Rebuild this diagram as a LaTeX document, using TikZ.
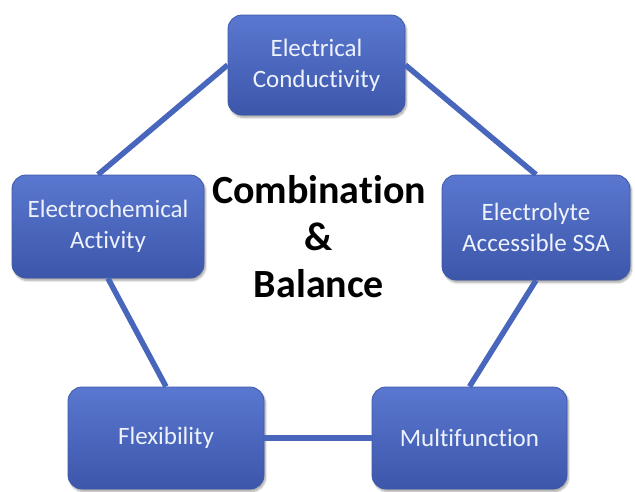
\documentclass[tikz,border=0pt]{standalone}
\usepackage{fontspec}
\setmainfont{Carlito}[Ligatures=NoCommon]
\usetikzlibrary{shadows.blur}
\definecolor{boxtop}{RGB}{90,120,208}
\definecolor{boxbot}{RGB}{60,86,170}
\definecolor{boxedge}{RGB}{62,88,168}
\definecolor{linkblue}{RGB}{72,102,188}
\definecolor{boxtext}{RGB}{238,242,252}
\begin{document}
\begin{tikzpicture}[x=1pt,y=-1pt,
  prop/.style={rectangle, rounded corners=14pt, draw=boxedge, line width=0.8pt,
    top color=boxtop, bottom color=boxbot, text=boxtext, align=center,
    font=\fontsize{25}{31}\selectfont, inner sep=0pt,
    blur shadow={shadow xshift=1.5pt, shadow yshift=-2.5pt, shadow blur steps=6, shadow opacity=35}},
  link/.style={draw=linkblue, line width=5.5pt},
  headline/.style={align=center, font=\fontsize{40}{47}\selectfont\bfseries, text=black}]
\useasboundingbox (0,0) rectangle (635,491);

% the five properties
\node[prop, minimum width=177pt, minimum height=100pt] (cond) at (316.5,65)
  {Electrical\\Conductivity};
\node[prop, minimum width=192pt, minimum height=103pt] (chem) at (108,226.5)
  {Electrochemical\\Activity};
\node[prop, minimum width=188pt, minimum height=105pt] (ssa) at (536,227.5)
  {Electrolyte\\Accessible SSA};
\node[prop, minimum width=196pt, minimum height=102pt] (flex) at (166,438)
  {Flexibility};
\node[prop, minimum width=195pt, minimum height=102pt] (multi) at (469.5,438)
  {Multifunction};

% centre caption
\node[headline] (title) at (319,237) {Combination\\\&\\Balance};

% links around the ring
\draw[link] (cond.west) -- ([xshift=-10pt]chem.north);
\draw[link] (cond.east) -- (ssa.north);
\draw[link] (chem.south) -- (flex.north);
\draw[link] (ssa.south) -- (multi.north);
\draw[link] (flex.east) -- (multi.west);
\end{tikzpicture}
\end{document}
